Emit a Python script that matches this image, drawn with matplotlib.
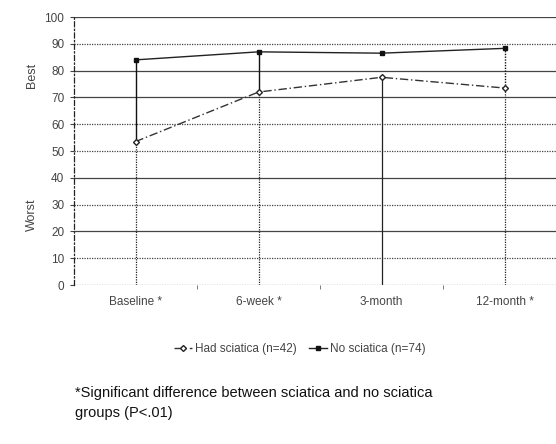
import matplotlib
matplotlib.use("Agg")
import matplotlib.pyplot as plt
import numpy as np

categories = ["Baseline *", "6-week *", "3-month", "12-month *"]
had_sciatica = [53.5, 72, 77.5, 73.5]
no_sciatica = [84, 87, 86.5, 88.3]
yticks = [0, 10, 20, 30, 40, 50, 60, 70, 80, 90, 100]

plt.rcParams['font.family'] = ['Liberation Sans', 'DejaVu Sans']

fig = plt.figure(figsize=(5.56, 4.44), dpi=100)
ax = fig.add_axes([74/556, 1 - 285/444, 492/556, (285 - 17)/444])

x = np.arange(len(categories))
ax.set_xlim(-0.5, len(categories) - 0.5)
ax.set_ylim(0, 100)

# gridlines
for v in yticks:
    ls = '-' if v in (20, 40, 70, 80, 100) else (0, (1, 1))
    ax.axhline(v, color='#444444', lw=0.9, ls=ls, zorder=1)

# drop lines from the lower series
lows = np.minimum(had_sciatica, no_sciatica)
for xi, t in zip(x, lows):
    ax.vlines(xi, 0, t, color='#222222', lw=0.9, ls=(0, (1, 1)) if xi != 2 else '-', zorder=2)
# high-low lines for significant time points
for xi, lab, a, b in zip(x, categories, had_sciatica, no_sciatica):
    if lab.endswith('*'):
        ax.vlines(xi, min(a, b), max(a, b), color='#111111', lw=1.0,
                  ls='-' if xi != 3 else (0, (1, 1)), zorder=2)

l1, = ax.plot(x, had_sciatica, color='#333333', lw=1.0, ls=(0, (6, 2, 1, 2)),
              marker='D', ms=3, mfc='white', mec='#222222', zorder=3,
              label='Had sciatica (n=42)')
l2, = ax.plot(x, no_sciatica, color='#222222', lw=1.0,
              marker='s', ms=3.5, mfc='#111111', mec='#111111', zorder=3,
              label='No sciatica (n=74)')

for s in ['top', 'right', 'bottom']:
    ax.spines[s].set_visible(False)
ax.spines['left'].set_linestyle((0, (4, 2, 1, 2)))
ax.spines['left'].set_color('#222222')
ax.spines['left'].set_linewidth(0.9)

ax.set_yticks(yticks)
ax.set_yticklabels([str(v) for v in yticks], fontsize=8.5, color='#444444')
ax.tick_params(axis='y', length=3, width=0.8, color='#444444', pad=4)
ax.set_xticks(x)
ax.set_xticklabels(categories, fontsize=8.5, color='#444444')
ax.tick_params(axis='x', length=0, pad=8)
ax.set_xticks(np.arange(0.5, len(categories) - 0.5, 1), minor=True)
ax.tick_params(axis='x', which='minor', length=3, color='#666666')

fig.text(32/556, 1 - 75/444, 'Best', rotation=90, ha='center', va='center', fontsize=9, color='#444444')
fig.text(32/556, 1 - 215/444, 'Worst', rotation=90, ha='center', va='center', fontsize=9, color='#444444')

fig.legend(handles=[l1, l2], loc='center', bbox_to_anchor=(300/556, 1 - 349/444), ncol=2,
           frameon=False, fontsize=8.5, handlelength=1.5, columnspacing=1.0, handletextpad=0.3,
           labelcolor='#444444')

fig.text(75/556, 1 - 393/444, '*Significant difference between sciatica and no sciatica',
         fontsize=10.5, ha='left', va='center', color='#111111')
fig.text(75/556, 1 - 413/444, 'groups (P<.01)',
         fontsize=10.5, ha='left', va='center', color='#111111')

fig.savefig('out.png', dpi=100)
